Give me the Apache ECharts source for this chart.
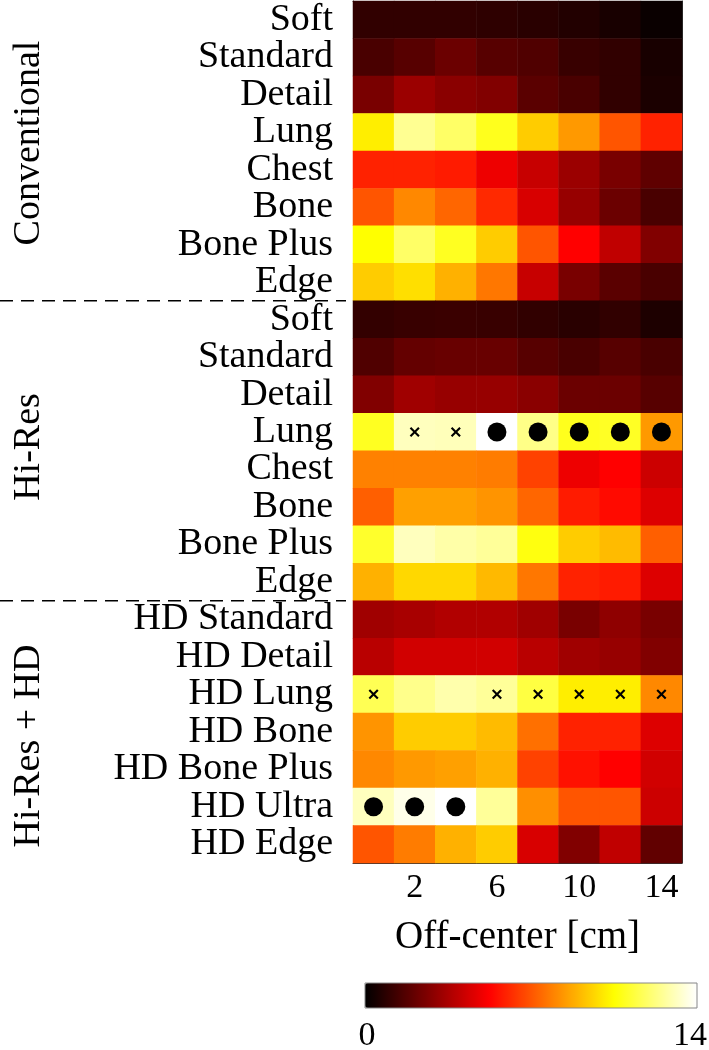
<!DOCTYPE html>
<html>
<head>
<meta charset="utf-8">
<script src="https://cdn.jsdelivr.net/npm/echarts@6/dist/echarts.min.js"></script>
<style>
html,body{margin:0;padding:0;background:#fff;}
#chart{width:709px;height:1050px;}
</style>
</head>
<body>
<div id="chart"></div>
<script>
// ---- Data ----
const offCenter = ['0', '2', '4', '6', '8', '10', '12', '14'];
const xTickLabels = ['2', '6', '10', '14'];

const conventionalLabels = ['Soft', 'Standard', 'Detail', 'Lung', 'Chest', 'Bone', 'Bone Plus', 'Edge'];
const hiResLabels = ['Soft', 'Standard', 'Detail', 'Lung', 'Chest', 'Bone', 'Bone Plus', 'Edge'];
const hiResHDLabels = ['HD Standard', 'HD Detail', 'HD Lung', 'HD Bone', 'HD Bone Plus', 'HD Ultra', 'HD Edge'];
const groupNames = ['Conventional', 'Hi-Res', 'Hi-Res + HD'];

const conventional = [
  [1.0, 1.0, 1.0, 0.95, 0.85, 0.7, 0.5, 0.2],
  [1.5, 1.8, 2.2, 1.8, 1.65, 1.15, 1.0, 0.5],
  [2.5, 3.2, 2.85, 2.65, 1.85, 1.5, 1.0, 0.55],
  [10.15, 12.5, 11.9, 10.9, 9.45, 8.4, 7.0, 5.95],
  [5.95, 5.95, 5.8, 4.9, 4.1, 3.2, 2.5, 1.95],
  [7.0, 8.05, 7.35, 6.1, 4.45, 3.1, 2.2, 1.5],
  [10.5, 11.9, 10.95, 9.45, 7.0, 5.25, 3.95, 2.65],
  [9.45, 9.85, 8.9, 7.7, 4.1, 2.5, 1.85, 1.5]
];
const hiRes = [
  [1.05, 1.15, 1.2, 1.15, 1.0, 0.85, 1.0, 0.6],
  [1.65, 2.05, 2.15, 2.15, 1.8, 1.5, 1.8, 1.5],
  [2.65, 3.3, 3.1, 3.1, 2.85, 2.2, 2.2, 1.8],
  [10.95, 13.1, 13.05, 14.0, 12.35, 10.9, 11.0, 8.4],
  [7.9, 7.9, 7.9, 7.8, 6.6, 4.9, 5.25, 4.2],
  [7.2, 8.55, 8.55, 8.3, 7.35, 5.8, 5.45, 4.55],
  [11.1, 13.1, 12.8, 12.6, 10.7, 9.45, 9.1, 7.2],
  [8.9, 9.7, 9.7, 9.05, 7.7, 5.95, 5.8, 4.55]
];
const hiResHD = [
  [3.3, 3.45, 3.65, 3.65, 3.3, 2.5, 2.95, 2.5],
  [3.8, 4.3, 4.3, 4.3, 3.8, 3.3, 3.1, 2.65],
  [11.65, 12.4, 12.85, 12.6, 11.4, 10.15, 10.15, 8.05],
  [8.3, 9.45, 9.45, 9.1, 7.55, 5.95, 5.95, 4.55],
  [8.05, 8.4, 8.55, 8.9, 6.6, 5.6, 5.25, 4.3],
  [13.1, 13.7, 14.0, 12.6, 8.2, 7.0, 7.0, 4.2],
  [7.0, 7.8, 8.9, 9.45, 4.45, 2.65, 3.95, 2.0]
];

// markers: [column index, row index]
const crossCells = [[1, 11], [2, 11], [0, 18], [3, 18], [4, 18], [5, 18], [6, 18], [7, 18]];
const circleCells = [[3, 11], [4, 11], [5, 11], [6, 11], [7, 11], [0, 21], [1, 21], [2, 21]];

const colorMin = 0, colorMax = 14;
const colorbarLabels = ['0', '14'];

// ---- Build ----
const rowLabels = conventionalLabels.concat(hiResLabels, hiResHDLabels);
const allRows = conventional.concat(hiRes, hiResHD);
const heatData = [];
allRows.forEach((row, r) => row.forEach((v, c) => heatData.push([c, r, v])));

// MATLAB "hot" colormap, evenly spaced stops
const hotStops = ['#000000', '#550000', '#aa0000', '#ff0000', '#ff5500', '#ffaa00', '#ffff00', '#ffff80', '#ffffff'];

const FONT = 'Liberation Serif';
const gridTop = 1, gridLeft = 353, gridRight = 27, gridBottom = 187;
const W = 709, H = 1050;
const gridH = H - gridTop - gridBottom;
const nRows = rowLabels.length;
const oddOnly = (i) => i % 2 === 1;
const crossPath = 'path://M3,0 L10,7 L17,0 L20,3 L13,10 L20,17 L17,20 L10,13 L3,20 L0,17 L7,10 L0,3 Z';

const groupBounds = [0, conventionalLabels.length, conventionalLabels.length + hiResLabels.length];
const sepYs = [groupBounds[1], groupBounds[2]].map(k => gridTop + gridH * k / nRows);

const chart = echarts.init(document.getElementById('chart'), null, {renderer: 'canvas'});
const axisLineStyle = {color: '#333', width: 1};
const option = {
  animation: false,
  backgroundColor: '#fff',
  grid: {left: gridLeft, right: gridRight, top: gridTop, bottom: gridBottom, containLabel: false},
  xAxis: [{
    type: 'category', data: offCenter, position: 'bottom',
    axisLine: {show: true, lineStyle: axisLineStyle},
    axisTick: {show: true, inside: true, length: 7, alignWithLabel: true, interval: oddOnly, lineStyle: axisLineStyle},
    axisLabel: {interval: oddOnly, fontFamily: FONT, fontSize: 34, color: '#000', margin: 8,
      formatter: (v) => xTickLabels.indexOf(v) >= 0 ? v : ''},
    splitLine: {show: false},
    name: 'Off-center [cm]', nameLocation: 'middle', nameGap: 55,
    nameTextStyle: {fontFamily: FONT, fontSize: 39, color: '#000'}
  }, {
    type: 'category', data: offCenter, position: 'top',
    axisLine: {show: true, lineStyle: axisLineStyle},
    axisTick: {show: true, inside: true, length: 7, alignWithLabel: true, interval: oddOnly, lineStyle: axisLineStyle},
    axisLabel: {show: false}, splitLine: {show: false}
  }],
  yAxis: [{
    type: 'category', data: rowLabels, inverse: true, position: 'left',
    axisLine: {show: true, lineStyle: axisLineStyle},
    axisTick: {show: true, inside: true, length: 8, alignWithLabel: true, interval: oddOnly, lineStyle: axisLineStyle},
    axisLabel: {interval: 0, fontFamily: FONT, fontSize: 38, color: '#000', margin: 20},
    splitLine: {show: false}
  }, {
    type: 'category', data: rowLabels, inverse: true, position: 'right',
    axisLine: {show: true, lineStyle: axisLineStyle},
    axisTick: {show: true, inside: true, length: 8, alignWithLabel: true, interval: oddOnly, lineStyle: axisLineStyle},
    axisLabel: {show: false}, splitLine: {show: false}
  }],
  visualMap: {
    type: 'continuous', seriesIndex: 0, min: colorMin, max: colorMax,
    orient: 'horizontal', left: 365, top: 983, itemWidth: 25, itemHeight: 332,
    calculable: false, padding: 0, hoverLink: false,
    inRange: {color: hotStops}, text: null, showLabel: false
  },
  series: [{
    type: 'heatmap', data: heatData, xAxisIndex: 0, yAxisIndex: 0,
    itemStyle: {borderWidth: 0}, emphasis: {disabled: true}, progressive: 0
  }, {
    type: 'scatter', data: circleCells, symbol: 'circle', symbolSize: 19,
    itemStyle: {color: '#000', opacity: 1}, emphasis: {disabled: true}, z: 5
  }, {
    type: 'scatter', data: crossCells, symbol: crossPath, symbolSize: 10,
    itemStyle: {color: '#000', opacity: 1}, emphasis: {disabled: true}, z: 5
  }],
  graphic: [
    ...sepYs.map(y => ({
      type: 'line', shape: {x1: 0, y1: y, x2: 346, y2: y},
      style: {stroke: '#000', lineWidth: 1.5, lineDash: [13, 8]}, z: 10
    })),
    {type: 'text', x: 29, y: 143, rotation: Math.PI / 2,
      style: {text: groupNames[0], font: '38px "Liberation Serif"', fill: '#000', align: 'center', verticalAlign: 'middle'}},
    {type: 'text', x: 29, y: 447, rotation: Math.PI / 2,
      style: {text: groupNames[1], font: '38px "Liberation Serif"', fill: '#000', align: 'center', verticalAlign: 'middle'}},
    {type: 'text', x: 29, y: 746, rotation: Math.PI / 2,
      style: {text: groupNames[2], font: '38px "Liberation Serif"', fill: '#000', align: 'center', verticalAlign: 'middle'}},
    {type: 'rect', shape: {x: 365, y: 983, width: 332, height: 25},
      style: {fill: 'none', stroke: '#888', lineWidth: 1}, z: 20},
    {type: 'text', x: 367, y: 1036,
      style: {text: colorbarLabels[0], font: '34px "Liberation Serif"', fill: '#000', align: 'center', verticalAlign: 'middle'}},
    {type: 'text', x: 690, y: 1036,
      style: {text: colorbarLabels[1], font: '34px "Liberation Serif"', fill: '#000', align: 'center', verticalAlign: 'middle'}}
  ]
};
chart.setOption(option);
</script>
</body>
</html>
